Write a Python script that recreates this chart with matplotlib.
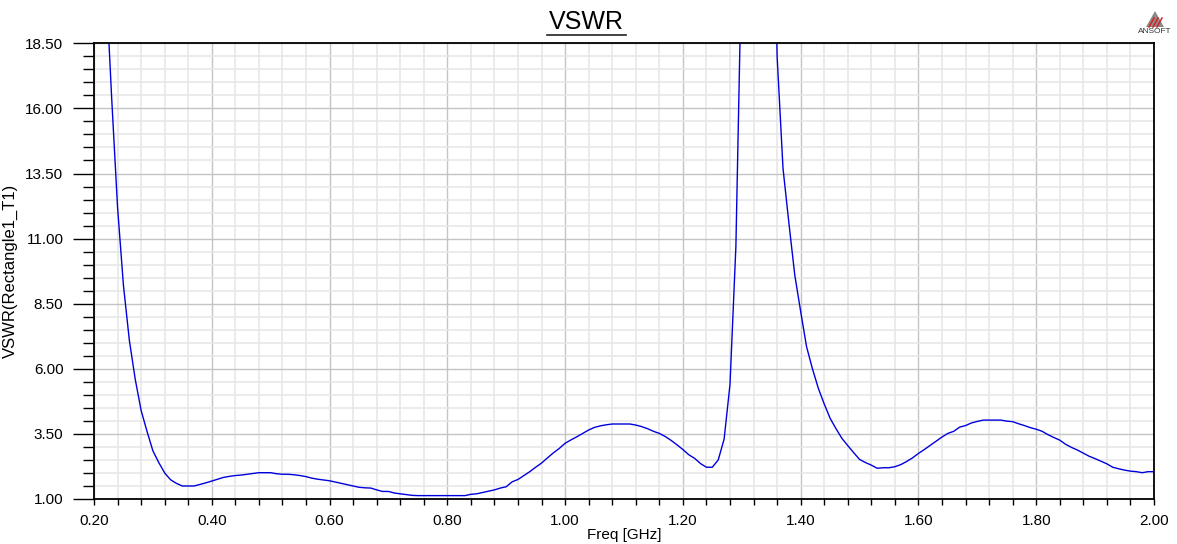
import numpy as np
import matplotlib
matplotlib.use("Agg")
import matplotlib.pyplot as plt
from matplotlib.ticker import MultipleLocator, FormatStrFormatter
from matplotlib.patches import Polygon
from matplotlib.lines import Line2D

plt.rcParams['font.family'] = ['Liberation Sans', 'DejaVu Sans']

# Frequency (GHz), 0.01 GHz steps from 0.20 to 2.00
freq = np.round(np.arange(0.20, 2.0001, 0.01), 2)

vswr_low = [32, 26, 21, 16.4, 12.2, 9.2, 7.1, 5.6, 4.4, 3.6,            # 0.20-0.29
            2.85, 2.4, 2.0, 1.74, 1.6, 1.5, 1.5, 1.5, 1.56, 1.62,       # 0.30-0.39
            1.69, 1.76, 1.83, 1.87, 1.90, 1.92, 1.95, 1.98, 2.01, 2.01, # 0.40-0.49
            2.01, 1.97, 1.95, 1.95, 1.93, 1.90, 1.86, 1.80, 1.76, 1.73, # 0.50-0.59
            1.70, 1.65, 1.60, 1.55, 1.50, 1.45, 1.43, 1.42, 1.35, 1.29, # 0.60-0.69
            1.29, 1.23, 1.20, 1.17, 1.14, 1.13, 1.13, 1.13, 1.13, 1.13, # 0.70-0.79
            1.13, 1.13, 1.13, 1.13, 1.18, 1.20, 1.25, 1.30, 1.35, 1.42, # 0.80-0.89
            1.47, 1.66, 1.75, 1.90, 2.05, 2.22, 2.38, 2.58, 2.77, 2.94] # 0.90-0.99
vswr_mid = [3.14, 3.27, 3.39, 3.52, 3.65, 3.75, 3.81, 3.85, 3.88, 3.88, # 1.00-1.09
            3.88, 3.88, 3.84, 3.78, 3.70, 3.60, 3.52, 3.40, 3.25, 3.08, # 1.10-1.19
            2.90, 2.70, 2.56, 2.36, 2.22, 2.22, 2.50, 3.30, 5.40, 10.7, # 1.20-1.29
            22.0, 40.0, 60.0, 70.0, 55.0, 30.0, 18.0, 13.7, 11.6, 9.6,  # 1.30-1.39
            8.2, 6.85, 6.0, 5.25, 4.65, 4.10, 3.70, 3.33, 3.05, 2.78]   # 1.40-1.49
vswr_high = [2.52, 2.40, 2.30, 2.18, 2.20, 2.20, 2.24, 2.32, 2.44, 2.58, # 1.50-1.59
             2.75, 2.90, 3.06, 3.22, 3.38, 3.52, 3.60, 3.76, 3.82, 3.92, # 1.60-1.69
             3.98, 4.03, 4.03, 4.03, 4.03, 3.99, 3.97, 3.89, 3.82, 3.74, # 1.70-1.79
             3.68, 3.60, 3.47, 3.36, 3.26, 3.10, 2.98, 2.88, 2.76, 2.64, # 1.80-1.89
             2.55, 2.45, 2.35, 2.22, 2.16, 2.11, 2.07, 2.05, 2.01, 2.05, # 1.90-1.99
             2.05]                                                        # 2.00
vswr = np.array(vswr_low + vswr_mid + vswr_high)

x_ticks = [0.20, 0.40, 0.60, 0.80, 1.00, 1.20, 1.40, 1.60, 1.80, 2.00]
y_ticks = [1.00, 3.50, 6.00, 8.50, 11.00, 13.50, 16.00, 18.50]

fig = plt.figure(figsize=(11.77, 5.44), dpi=100)
ax = fig.add_axes([94/1177, 45/544, (1154-94)/1177, (499-43.3)/544])

ax.plot(freq, vswr, color='#0000dd', lw=1.0, clip_on=True)

ax.set_xlim(0.2, 2.0)
ax.set_ylim(1.0, 18.5)
ax.set_xticks(x_ticks)
ax.set_yticks(y_ticks)
ax.xaxis.set_minor_locator(MultipleLocator(0.04))
ax.yaxis.set_minor_locator(MultipleLocator(0.5))
ax.xaxis.set_major_formatter(FormatStrFormatter('%.2f'))
ax.yaxis.set_major_formatter(FormatStrFormatter('%.2f'))

ax.grid(which='major', color='#c4c4c4', lw=1.0)
ax.grid(which='minor', color='#e6e6e6', lw=1.1)
ax.set_axisbelow(True)

ax.tick_params(axis='y', which='major', direction='out', length=15, width=1.0,
               pad=7, labelsize=11, colors='black')
ax.tick_params(axis='y', which='minor', direction='out', length=8, width=1.0)
ax.tick_params(axis='x', which='major', direction='out', length=4, width=1.0,
               pad=7, labelsize=11)
ax.tick_params(axis='x', which='minor', direction='out', length=4, width=1.0)

for s in ax.spines.values():
    s.set_linewidth(1.3)
    s.set_color('black')

ax.set_xlabel('Freq [GHz]', fontsize=11, labelpad=0)
ax.set_ylabel('VSWR(Rectangle1_T1)', fontsize=12)
ax.yaxis.set_label_coords((18 - 94) / 1060, 0.5)

# Title with underline
fig.text(586/1177, 1 - 22/544, 'VSWR', ha='center', va='center', fontsize=18)
fig.add_artist(Line2D([547/1177, 626/1177], [1 - 35/544, 1 - 35/544],
                      color='#222222', lw=1.2, transform=fig.transFigure))

# ANSOFT logo
tri = Polygon([[1146/1177, 1 - 27/544], [1164/1177, 1 - 27/544], [1155/1177, 1 - 11/544]],
              closed=True, facecolor='#8a8a8a', edgecolor='none', transform=fig.transFigure)
fig.add_artist(tri)
for dx in (0, 4, 8):
    fig.add_artist(Line2D([(1149 + dx)/1177, (1154 + dx)/1177], [1 - 27/544, 1 - 18/544],
                          color='#e02020', lw=1.1, transform=fig.transFigure))
fig.text(1155/1177, 1 - 31.5/544, 'ANSOFT', ha='center', va='center', fontsize=6,
         color='#333333')

fig.savefig('out.png', dpi=100)
